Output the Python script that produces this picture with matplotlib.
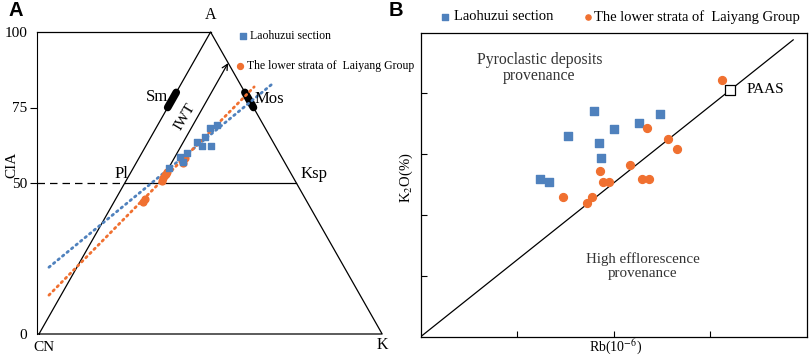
import matplotlib.pyplot as plt
import numpy as np

plt.rcParams['font.family'] = 'Liberation Serif'
plt.rcParams['mathtext.fontset'] = 'stix'

blue = '#4F81BD'
orange = '#F07030'

# Panel A: A-CN-K ternary (CIA = A value, K = K2O share)
laohuzui_A = [68.2, 69.2, 65.2, 63.6, 62.3, 62.3, 59.9, 58.6, 56.9, 55.0]
laohuzui_K = [15.8, 17.3, 15.8, 14.3, 16.4, 19.0, 13.2, 11.8, 13.5, 10.4]
laiyang_A = [57.6, 56.6, 58.3, 53.6, 52.6, 51.7, 50.7, 53.0, 43.7, 44.7]
laiyang_K = [12.9, 13.7, 13.4, 10.5, 10.4, 10.3, 10.5, 10.5, 8.5, 8.6]
sm_cia = [75.0, 80.0]
mos_cia = [75.0, 80.0]
cia_ticks = [0, 50, 75, 100]

# Panel B: Rb (ppm) vs K2O (%)
laohuzui_rb = [179.6, 248.0, 153.0, 200.3, 226.2, 184.8, 186.8, 123.6, 133.0]
laohuzui_k2o = [3.71, 3.67, 3.30, 3.42, 3.51, 3.19, 2.94, 2.60, 2.54]
laiyang_rb = [311.9, 234.2, 256.0, 265.3, 216.9, 185.8, 189.2, 195.4, 229.3, 236.9, 147.8, 177.8, 172.0]
laiyang_k2o = [4.22, 3.44, 3.25, 3.08, 2.82, 2.72, 2.54, 2.54, 2.60, 2.60, 2.30, 2.30, 2.20]
paas_rb, paas_k2o = 321.0, 4.06


def tern_x(A, K):
    return np.asarray(K) + np.asarray(A) / 2


fig = plt.figure(figsize=(8.09, 3.57), dpi=100)

# ---------------- Panel A ----------------
ax = fig.add_axes([37 / 809, 23 / 357, 363 / 809, 302 / 357])
ax.set_xlim(-0.58, 105.2)
ax.set_ylim(0, 100)
for s in ['top', 'right', 'bottom']:
    ax.spines[s].set_visible(False)
ax.set_xticks([])
ax.set_yticks(cia_ticks)
ax.set_yticklabels([str(t) for t in cia_ticks], fontsize=11)
ax.tick_params(axis='y', direction='out', length=5, pad=2)
for i in (0, 3):
    ax.yaxis.get_major_ticks()[i].tick1line.set_visible(False)
fig.text(12 / 809, 1 - 165 / 357, 'CIA', fontsize=11, rotation=90,
         ha='center', va='center')

k = dict(color='black', lw=0.9, clip_on=False)
ax.plot([-0.58, 50], [100, 100], **k)
ax.plot([0, 50, 100, 0], [0, 100, 0, 0], **k)
ax.plot([25, 75], [50, 50], **k)
ax.plot([-0.58, 25], [50, 50], color='black', lw=0.9, ls=(0, (6, 4)))

# mineral bars
ax.plot([a / 2 for a in sm_cia], sm_cia, color='black', lw=5.5, solid_capstyle='round')
ax.plot([100 - a / 2 for a in mos_cia], mos_cia, color='black', lw=5.5, solid_capstyle='round')

# IWT arrow
ax.annotate('', xy=(55.1, 89.7), xytext=(35.3, 50),
            arrowprops=dict(arrowstyle='->', color='black', lw=0.9, shrinkA=0, shrinkB=0))
ax.text(42.6, 71.9, 'IWT', rotation=59, fontsize=11, ha='center', va='center')

# trend lines (linear fits)
for A, K, c, xr in [(laohuzui_A, laohuzui_K, blue, (2.9, 68.2)),
                    (laiyang_A, laiyang_K, orange, (2.9, 62.7))]:
    x = tern_x(A, K)
    p = np.polyfit(x, A, 1)
    xx = np.array(xr)
    ax.plot(xx, np.polyval(p, xx), color=c, lw=2, ls=(0, (0.6, 1.5)),
            dash_capstyle='round')

ax.scatter(tern_x(laiyang_A, laiyang_K), laiyang_A, s=24, marker='o', color=orange, zorder=3)
ax.scatter(tern_x(laohuzui_A, laohuzui_K), laohuzui_A, s=22, marker='s', color=blue, zorder=4)

ax.text(50, 103, 'A', fontsize=11.5, ha='center', va='bottom', clip_on=False)
ax.text(1.5, -4.6, 'CN', fontsize=11, ha='center', va='center', clip_on=False)
ax.text(100, -3.6, 'K', fontsize=11.5, ha='center', va='center', clip_on=False)
ax.text(23.9, 53, 'Pl', fontsize=12, ha='center', va='center')
ax.text(80.0, 53, 'Ksp', fontsize=12, ha='center', va='center')
ax.text(34.4, 78.5, 'Sm', fontsize=12, ha='center', va='center')
ax.text(67.0, 77.8, 'Mos', fontsize=12, ha='center', va='center')

ax.scatter([59.5], [98.7], s=14, marker='s', color=blue, clip_on=False)
ax.text(61.5, 98.7, 'Laohuzui section', fontsize=8.5, va='center', clip_on=False)
ax.scatter([58.6], [88.7], s=18, marker='o', color=orange, clip_on=False)
ax.text(60.6, 88.7, 'The lower strata of  Laiyang Group', fontsize=8.5, va='center',
        clip_on=False)

fig.text(15.5 / 809, 1 - 10 / 357, 'A', fontsize=14.5, fontweight='bold',
         family='Liberation Sans', ha='center', va='center')

# ---------------- Panel B ----------------
bx = fig.add_axes([420.7 / 809, 20.3 / 357, 386 / 809, 304 / 357])
bx.set_xlim(0, 400)
bx.set_ylim(0, 5)
bx.set_xticks([100, 200, 300])
bx.set_yticks([1, 2, 3, 4])
bx.set_xticklabels([])
bx.set_yticklabels([])
bx.tick_params(direction='in', length=4, width=0.8)
for s in bx.spines.values():
    s.set_linewidth(0.9)

xl = np.array([0, 386])
bx.plot(xl, xl * paas_k2o / paas_rb, color='black', lw=0.9)
bx.scatter(laohuzui_rb, laohuzui_k2o, s=26, marker='s', color=blue, zorder=3)
bx.scatter(laiyang_rb, laiyang_k2o, s=32, marker='o', color=orange, zorder=3)
bx.scatter([paas_rb], [paas_k2o], s=55, marker='s', facecolor='white',
           edgecolor='black', linewidth=0.9, zorder=4)
bx.text(338, paas_k2o, 'PAAS', fontsize=11, va='center')

bx.text(123, 4.42, 'Pyroclastic deposits\nprovenance', fontsize=11.3, ha='center',
        va='center', linespacing=1.05, color='#333333')
bx.text(230, 1.16, 'High efflorescence\nprovenance', fontsize=10.8, ha='center',
        va='center', linespacing=1.05, color='#333333')

fig.text(616 / 809, 1 - 347 / 357, 'Rb(10$^{-6}$)', fontsize=10,
         ha='center', va='center')
fig.text(406 / 809, 1 - 178 / 357, 'K$_2$O(%)', fontsize=10.5, rotation=90,
         ha='center', va='center')

bx.scatter([25], [5.26], s=14, marker='s', color=blue, clip_on=False)
bx.text(34, 5.26, 'Laohuzui section', fontsize=10.5, va='center', clip_on=False)
bx.scatter([173], [5.25], s=14, marker='o', color=orange, clip_on=False)
bx.text(180, 5.26, 'The lower strata of  Laiyang Group', fontsize=10.5, va='center',
        clip_on=False)

fig.text(396 / 809, 1 - 10 / 357, 'B', fontsize=14.5, fontweight='bold',
         family='Liberation Sans', ha='center', va='center')

fig.savefig('out.png', dpi=100)
